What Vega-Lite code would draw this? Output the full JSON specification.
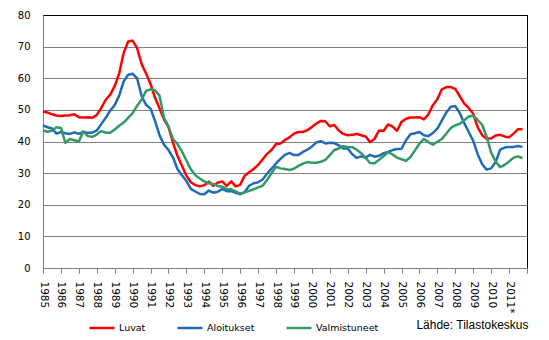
{
  "$schema": "https://vega.github.io/schema/vega-lite/v6.json",
  "width": 484,
  "height": 253,
  "autosize": {"type": "none"},
  "padding": {"left": 43, "top": 15, "right": 22, "bottom": 72},
  "background": "white",
  "config": {"view": {"stroke": "black", "strokeWidth": 1}, "font": "DejaVu Sans"},
  "data": {"values": [
    {"t": 1985, "Luvat": 49.5, "Aloitukset": 45.1, "Valmistuneet": 43.5},
    {"t": 1985.25, "Luvat": 49.2, "Aloitukset": 44.5, "Valmistuneet": 43.1},
    {"t": 1985.5, "Luvat": 48.6, "Aloitukset": 44.1, "Valmistuneet": 43.4},
    {"t": 1985.75, "Luvat": 48.2, "Aloitukset": 42.5, "Valmistuneet": 44.5},
    {"t": 1986, "Luvat": 48.1, "Aloitukset": 43.0, "Valmistuneet": 44.3},
    {"t": 1986.25, "Luvat": 48.2, "Aloitukset": 42.6, "Valmistuneet": 39.6},
    {"t": 1986.5, "Luvat": 48.3, "Aloitukset": 42.4, "Valmistuneet": 40.8},
    {"t": 1986.75, "Luvat": 48.6, "Aloitukset": 42.9, "Valmistuneet": 40.4},
    {"t": 1987, "Luvat": 47.7, "Aloitukset": 42.4, "Valmistuneet": 40.0},
    {"t": 1987.25, "Luvat": 47.6, "Aloitukset": 43.0, "Valmistuneet": 43.2},
    {"t": 1987.5, "Luvat": 47.7, "Aloitukset": 42.8, "Valmistuneet": 41.7},
    {"t": 1987.75, "Luvat": 47.5, "Aloitukset": 42.8, "Valmistuneet": 41.5},
    {"t": 1988, "Luvat": 48.4, "Aloitukset": 43.5, "Valmistuneet": 42.2},
    {"t": 1988.25, "Luvat": 50.6, "Aloitukset": 45.5, "Valmistuneet": 43.3},
    {"t": 1988.5, "Luvat": 53.2, "Aloitukset": 47.5, "Valmistuneet": 42.8},
    {"t": 1988.75, "Luvat": 54.8, "Aloitukset": 49.8, "Valmistuneet": 42.8},
    {"t": 1989, "Luvat": 57.5, "Aloitukset": 51.5, "Valmistuneet": 43.8},
    {"t": 1989.25, "Luvat": 61.5, "Aloitukset": 54.5, "Valmistuneet": 45.0},
    {"t": 1989.5, "Luvat": 68.0, "Aloitukset": 59.0, "Valmistuneet": 46.0},
    {"t": 1989.75, "Luvat": 71.6, "Aloitukset": 61.1, "Valmistuneet": 47.5},
    {"t": 1990, "Luvat": 71.9, "Aloitukset": 61.4, "Valmistuneet": 49.0},
    {"t": 1990.25, "Luvat": 69.5, "Aloitukset": 60.0, "Valmistuneet": 51.3},
    {"t": 1990.5, "Luvat": 64.5, "Aloitukset": 54.4, "Valmistuneet": 53.2},
    {"t": 1990.75, "Luvat": 61.5, "Aloitukset": 51.6, "Valmistuneet": 56.0},
    {"t": 1991, "Luvat": 58.2, "Aloitukset": 50.4, "Valmistuneet": 56.5},
    {"t": 1991.25, "Luvat": 53.8, "Aloitukset": 46.5, "Valmistuneet": 56.2},
    {"t": 1991.5, "Luvat": 50.5, "Aloitukset": 42.0, "Valmistuneet": 54.5},
    {"t": 1991.75, "Luvat": 47.0, "Aloitukset": 39.0, "Valmistuneet": 47.5},
    {"t": 1992, "Luvat": 44.6, "Aloitukset": 37.3, "Valmistuneet": 44.8},
    {"t": 1992.25, "Luvat": 39.6, "Aloitukset": 35.0, "Valmistuneet": 40.8},
    {"t": 1992.5, "Luvat": 35.5, "Aloitukset": 31.3, "Valmistuneet": 39.2},
    {"t": 1992.75, "Luvat": 32.3, "Aloitukset": 29.3, "Valmistuneet": 36.9},
    {"t": 1993, "Luvat": 29.2, "Aloitukset": 27.5, "Valmistuneet": 34.0},
    {"t": 1993.25, "Luvat": 27.1, "Aloitukset": 25.0, "Valmistuneet": 31.2},
    {"t": 1993.5, "Luvat": 26.2, "Aloitukset": 24.2, "Valmistuneet": 29.3},
    {"t": 1993.75, "Luvat": 25.8, "Aloitukset": 23.4, "Valmistuneet": 28.3},
    {"t": 1994, "Luvat": 26.2, "Aloitukset": 23.3, "Valmistuneet": 27.4},
    {"t": 1994.25, "Luvat": 27.3, "Aloitukset": 24.5, "Valmistuneet": 26.8},
    {"t": 1994.5, "Luvat": 26.0, "Aloitukset": 23.8, "Valmistuneet": 26.6},
    {"t": 1994.75, "Luvat": 27.0, "Aloitukset": 24.1, "Valmistuneet": 25.9},
    {"t": 1995, "Luvat": 27.4, "Aloitukset": 25.0, "Valmistuneet": 25.7},
    {"t": 1995.25, "Luvat": 26.0, "Aloitukset": 24.3, "Valmistuneet": 25.0},
    {"t": 1995.5, "Luvat": 27.4, "Aloitukset": 24.3, "Valmistuneet": 24.9},
    {"t": 1995.75, "Luvat": 25.8, "Aloitukset": 23.8, "Valmistuneet": 24.2},
    {"t": 1996, "Luvat": 26.3, "Aloitukset": 23.3, "Valmistuneet": 23.5},
    {"t": 1996.25, "Luvat": 29.2, "Aloitukset": 24.0, "Valmistuneet": 23.9},
    {"t": 1996.5, "Luvat": 30.3, "Aloitukset": 26.0, "Valmistuneet": 24.4},
    {"t": 1996.75, "Luvat": 31.3, "Aloitukset": 26.8, "Valmistuneet": 24.9},
    {"t": 1997, "Luvat": 32.6, "Aloitukset": 27.1, "Valmistuneet": 25.5},
    {"t": 1997.25, "Luvat": 34.3, "Aloitukset": 28.0, "Valmistuneet": 26.0},
    {"t": 1997.5, "Luvat": 36.1, "Aloitukset": 29.8, "Valmistuneet": 27.8},
    {"t": 1997.75, "Luvat": 37.3, "Aloitukset": 31.4, "Valmistuneet": 30.0},
    {"t": 1998, "Luvat": 39.2, "Aloitukset": 33.1, "Valmistuneet": 32.0},
    {"t": 1998.25, "Luvat": 39.4, "Aloitukset": 34.5, "Valmistuneet": 31.5},
    {"t": 1998.5, "Luvat": 40.5, "Aloitukset": 35.8, "Valmistuneet": 31.3},
    {"t": 1998.75, "Luvat": 41.3, "Aloitukset": 36.4, "Valmistuneet": 31.0},
    {"t": 1999, "Luvat": 42.5, "Aloitukset": 35.7, "Valmistuneet": 31.4},
    {"t": 1999.25, "Luvat": 43.0, "Aloitukset": 35.7, "Valmistuneet": 32.3},
    {"t": 1999.5, "Luvat": 43.0, "Aloitukset": 36.7, "Valmistuneet": 33.0},
    {"t": 1999.75, "Luvat": 43.6, "Aloitukset": 37.4, "Valmistuneet": 33.5},
    {"t": 2000, "Luvat": 44.6, "Aloitukset": 38.4, "Valmistuneet": 33.3},
    {"t": 2000.25, "Luvat": 45.7, "Aloitukset": 39.7, "Valmistuneet": 33.3},
    {"t": 2000.5, "Luvat": 46.5, "Aloitukset": 40.1, "Valmistuneet": 33.6},
    {"t": 2000.75, "Luvat": 46.4, "Aloitukset": 39.4, "Valmistuneet": 34.2},
    {"t": 2001, "Luvat": 44.8, "Aloitukset": 39.6, "Valmistuneet": 35.7},
    {"t": 2001.25, "Luvat": 45.2, "Aloitukset": 39.5, "Valmistuneet": 37.3},
    {"t": 2001.5, "Luvat": 43.5, "Aloitukset": 38.8, "Valmistuneet": 37.8},
    {"t": 2001.75, "Luvat": 42.4, "Aloitukset": 37.8, "Valmistuneet": 38.5},
    {"t": 2002, "Luvat": 42.0, "Aloitukset": 37.8, "Valmistuneet": 38.3},
    {"t": 2002.25, "Luvat": 42.1, "Aloitukset": 36.0, "Valmistuneet": 38.2},
    {"t": 2002.5, "Luvat": 42.4, "Aloitukset": 34.8, "Valmistuneet": 37.4},
    {"t": 2002.75, "Luvat": 42.0, "Aloitukset": 35.3, "Valmistuneet": 36.3},
    {"t": 2003, "Luvat": 41.6, "Aloitukset": 34.9, "Valmistuneet": 34.8},
    {"t": 2003.25, "Luvat": 39.8, "Aloitukset": 35.8, "Valmistuneet": 33.2},
    {"t": 2003.5, "Luvat": 40.9, "Aloitukset": 35.2, "Valmistuneet": 33.1},
    {"t": 2003.75, "Luvat": 43.5, "Aloitukset": 35.5, "Valmistuneet": 34.2},
    {"t": 2004, "Luvat": 43.4, "Aloitukset": 36.3, "Valmistuneet": 35.4},
    {"t": 2004.25, "Luvat": 45.4, "Aloitukset": 36.7, "Valmistuneet": 36.6},
    {"t": 2004.5, "Luvat": 44.7, "Aloitukset": 37.3, "Valmistuneet": 35.9},
    {"t": 2004.75, "Luvat": 43.4, "Aloitukset": 37.6, "Valmistuneet": 34.9},
    {"t": 2005, "Luvat": 46.2, "Aloitukset": 37.7, "Valmistuneet": 34.4},
    {"t": 2005.25, "Luvat": 47.2, "Aloitukset": 40.4, "Valmistuneet": 33.9},
    {"t": 2005.5, "Luvat": 47.6, "Aloitukset": 42.3, "Valmistuneet": 35.1},
    {"t": 2005.75, "Luvat": 47.6, "Aloitukset": 42.6, "Valmistuneet": 37.2},
    {"t": 2006, "Luvat": 47.7, "Aloitukset": 43.0, "Valmistuneet": 39.3},
    {"t": 2006.25, "Luvat": 47.0, "Aloitukset": 42.0, "Valmistuneet": 40.8},
    {"t": 2006.5, "Luvat": 48.6, "Aloitukset": 41.7, "Valmistuneet": 39.8},
    {"t": 2006.75, "Luvat": 51.5, "Aloitukset": 42.7, "Valmistuneet": 39.0},
    {"t": 2007, "Luvat": 53.4, "Aloitukset": 44.1, "Valmistuneet": 39.9},
    {"t": 2007.25, "Luvat": 56.5, "Aloitukset": 46.6, "Valmistuneet": 40.8},
    {"t": 2007.5, "Luvat": 57.2, "Aloitukset": 49.2, "Valmistuneet": 42.5},
    {"t": 2007.75, "Luvat": 57.2, "Aloitukset": 51.0, "Valmistuneet": 44.3},
    {"t": 2008, "Luvat": 56.6, "Aloitukset": 51.2, "Valmistuneet": 45.1},
    {"t": 2008.25, "Luvat": 54.3, "Aloitukset": 49.0, "Valmistuneet": 45.6},
    {"t": 2008.5, "Luvat": 52.0, "Aloitukset": 45.8, "Valmistuneet": 46.7},
    {"t": 2008.75, "Luvat": 50.6, "Aloitukset": 43.0, "Valmistuneet": 47.9},
    {"t": 2009, "Luvat": 48.8, "Aloitukset": 40.2, "Valmistuneet": 48.2},
    {"t": 2009.25, "Luvat": 44.5, "Aloitukset": 36.0, "Valmistuneet": 46.8},
    {"t": 2009.5, "Luvat": 42.0, "Aloitukset": 32.8, "Valmistuneet": 45.3},
    {"t": 2009.75, "Luvat": 40.9, "Aloitukset": 31.1, "Valmistuneet": 41.5},
    {"t": 2010, "Luvat": 41.0, "Aloitukset": 31.5, "Valmistuneet": 36.5},
    {"t": 2010.25, "Luvat": 41.9, "Aloitukset": 33.5, "Valmistuneet": 33.7},
    {"t": 2010.5, "Luvat": 42.1, "Aloitukset": 37.4, "Valmistuneet": 31.9},
    {"t": 2010.75, "Luvat": 41.6, "Aloitukset": 38.1, "Valmistuneet": 32.6},
    {"t": 2011, "Luvat": 41.3, "Aloitukset": 38.3, "Valmistuneet": 33.7},
    {"t": 2011.25, "Luvat": 42.5, "Aloitukset": 38.3, "Valmistuneet": 34.9},
    {"t": 2011.5, "Luvat": 43.9, "Aloitukset": 38.6, "Valmistuneet": 35.3},
    {"t": 2011.75, "Luvat": 43.9, "Aloitukset": 38.3, "Valmistuneet": 34.7}
  ]},
  "transform": [{"fold": ["Luvat", "Aloitukset", "Valmistuneet"], "as": ["sarja", "arvo"]}],
  "mark": {"type": "line", "strokeWidth": 2.5, "strokeJoin": "round"},
  "encoding": {
    "x": {
      "field": "t",
      "type": "quantitative",
      "scale": {"domain": [1985, 2012], "nice": false, "zero": false},
      "axis": {
        "values": [1985, 1986, 1987, 1988, 1989, 1990, 1991, 1992, 1993, 1994, 1995, 1996, 1997, 1998, 1999, 2000, 2001, 2002, 2003, 2004, 2005, 2006, 2007, 2008, 2009, 2010, 2011, 2012],
        "format": "d",
        "labelExpr": "datum.value == 2012 ? '' : (datum.value == 2011 ? '2011*' : datum.label)",
        "labelAngle": 90,
        "labelFontSize": 10.5,
        "labelColor": "black",
        "labelPadding": 8,
        "tickSize": 5,
        "tickColor": "#808080",
        "domainColor": "#808080",
        "grid": false,
        "title": "Lähde: Tilastokeskus",
        "titleX": 485,
        "titleY": 56,
        "titleAlign": "right",
        "titleAnchor": "end",
        "titleBaseline": "middle",
        "titleFont": "Liberation Sans",
        "titleFontSize": 12,
        "titleFontWeight": "normal",
        "titleColor": "black",
        "labelFlush": false,
        "labelOverlap": false,
        "labelBound": false
      }
    },
    "y": {
      "field": "arvo",
      "type": "quantitative",
      "scale": {"domain": [0, 80], "nice": false},
      "axis": {
        "values": [0, 10, 20, 30, 40, 50, 60, 70, 80],
        "title": null,
        "ticks": false,
        "tickSize": 0,
        "labelPadding": 13,
        "domainColor": "#808080",
        "gridColor": {"condition": {"test": "datum.value == 80", "value": "black"}, "value": "#808080"},
        "gridOpacity": 1,
        "labelFontSize": 10,
        "labelColor": "black"
      }
    },
    "color": {
      "field": "sarja",
      "type": "nominal",
      "scale": {"domain": ["Luvat", "Aloitukset", "Valmistuneet"], "range": ["#ff0000", "#1f6bb9", "#339966"]},
      "legend": {
        "title": null,
        "orient": "none",
        "legendX": 45,
        "legendY": 299,
        "direction": "horizontal",
        "symbolType": "stroke",
        "symbolSize": 625,
        "symbolStrokeWidth": 2.5,
        "labelFontSize": 9.5,
        "labelColor": "black",
        "columnPadding": 26,
        "labelOffset": 3
      }
    }
  }
}
